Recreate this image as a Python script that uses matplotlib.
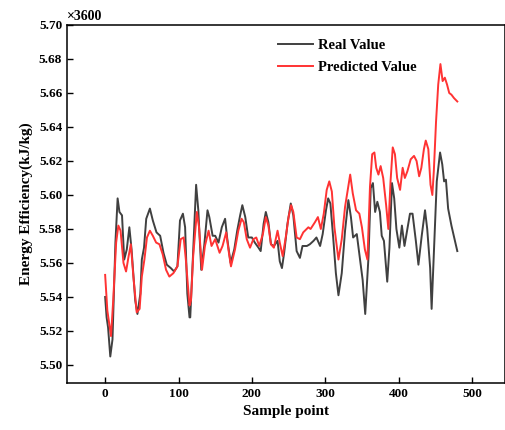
import matplotlib
matplotlib.use("Agg")
import matplotlib.pyplot as plt

# sample index / energy efficiency (x3600 kJ/kg)
real_x = [0, 2, 4, 7, 10, 14, 17, 19.5, 23, 26, 29.5, 33, 36, 41, 44, 48, 50, 53, 56, 61,
          65, 70, 75, 79.5, 84, 89.5, 94, 98.5, 102, 106, 109, 112, 115, 116, 119.5, 124, 127,
          131, 135, 139.5, 142, 146.5, 150, 154.5, 159, 163.5, 166.5, 171, 176, 180, 184, 187,
          191, 195, 200, 204, 209, 212, 216, 219, 222.5, 226, 230, 235, 238, 241, 244, 248.5,
          253, 256.5, 261, 265.5, 269, 275, 279, 284, 288, 293, 296.5, 301, 304, 307, 311,
          314.5, 318, 322.5, 327, 331.5, 335, 338, 343, 347.5, 351, 354.5, 359, 362, 365, 368,
          371, 374.5, 377, 380, 384.5, 387.5, 391, 394, 397, 401, 404.5, 408, 412, 415.5, 419,
          423.5, 427, 431.5, 436, 439, 443, 445, 448, 452, 456.5, 459.5, 462, 464.5, 467.5,
          472, 480]
real_y = [5.540, 5.528, 5.522, 5.505, 5.515, 5.572, 5.598, 5.590, 5.588, 5.562, 5.568, 5.581,
          5.568, 5.538, 5.530, 5.542, 5.562, 5.569, 5.586, 5.592, 5.585, 5.578, 5.576, 5.566,
          5.559, 5.557, 5.555, 5.558, 5.585, 5.589, 5.581, 5.542, 5.528, 5.528, 5.562, 5.606,
          5.591, 5.556, 5.570, 5.591, 5.587, 5.576, 5.576, 5.572, 5.581, 5.586, 5.574, 5.560,
          5.568, 5.579, 5.588, 5.594, 5.587, 5.575, 5.575, 5.572, 5.569, 5.567, 5.583, 5.590,
          5.584, 5.571, 5.570, 5.573, 5.561, 5.557, 5.566, 5.583, 5.595, 5.588, 5.567, 5.563,
          5.570, 5.570, 5.571, 5.573, 5.575, 5.570, 5.577, 5.591, 5.598, 5.595, 5.574, 5.554,
          5.541, 5.554, 5.579, 5.597, 5.587, 5.575, 5.577, 5.562, 5.550, 5.530, 5.564, 5.604,
          5.607, 5.590, 5.596, 5.590, 5.576, 5.573, 5.549, 5.569, 5.607, 5.598, 5.580, 5.569,
          5.582, 5.570, 5.580, 5.589, 5.589, 5.573, 5.559, 5.576, 5.591, 5.580, 5.557, 5.533,
          5.565, 5.608, 5.625, 5.618, 5.608, 5.609, 5.592, 5.582, 5.567]

pred_x = [0, 3, 8, 11, 15, 18, 21, 25, 28.5, 32, 35, 38.5, 43, 47, 50, 53.5, 57, 61, 65, 69.5,
          74, 78.5, 83, 87.5, 93, 98.5, 103, 107, 110, 115, 117, 120, 125, 128, 132, 136, 141,
          145, 150, 156, 160, 165, 168, 171.5, 177, 181.5, 186, 189, 193, 197.5, 202, 206, 210,
          215, 219, 222.5, 226, 230, 235, 238, 242, 246.5, 250, 253.5, 256.5, 261, 265.5, 270,
          277, 280, 286, 290, 294, 298, 302, 305.5, 309, 312.5, 318, 322.5, 327, 334, 337.5,
          342, 346.5, 350, 354, 357.5, 361, 364, 367, 369.5, 372.5, 375.5, 379, 383, 386, 389,
          392, 395, 398, 402, 405.5, 408.5, 412, 416.5, 421, 424.5, 428, 431, 434.5, 437, 440.5,
          443.5, 446, 448, 451, 454, 457, 460, 463, 466, 469, 472, 475.5, 480]
pred_y = [5.553, 5.532, 5.517, 5.538, 5.572, 5.582, 5.579, 5.560, 5.555, 5.564, 5.571, 5.552,
          5.531, 5.533, 5.552, 5.562, 5.575, 5.579, 5.576, 5.572, 5.571, 5.565, 5.556, 5.552,
          5.554, 5.558, 5.574, 5.575, 5.562, 5.535, 5.538, 5.564, 5.590, 5.581, 5.556, 5.570,
          5.579, 5.570, 5.574, 5.566, 5.570, 5.578, 5.568, 5.558, 5.568, 5.579, 5.586, 5.584,
          5.574, 5.569, 5.574, 5.575, 5.570, 5.577, 5.587, 5.582, 5.571, 5.569, 5.579, 5.572,
          5.564, 5.576, 5.587, 5.594, 5.590, 5.575, 5.574, 5.578, 5.581, 5.580, 5.584, 5.587,
          5.580, 5.589, 5.603, 5.608, 5.602, 5.581, 5.562, 5.574, 5.593, 5.612, 5.601, 5.591,
          5.589, 5.581, 5.568, 5.562, 5.605, 5.624, 5.625, 5.616, 5.612, 5.617, 5.610, 5.594,
          5.580, 5.608, 5.628, 5.624, 5.610, 5.603, 5.616, 5.610, 5.614, 5.621, 5.623, 5.620,
          5.611, 5.616, 5.627, 5.632, 5.627, 5.606, 5.600, 5.614, 5.643, 5.665, 5.677, 5.667,
          5.669, 5.665, 5.660, 5.659, 5.657, 5.655]

x_ticks = [0, 100, 200, 300, 400, 500]
y_ticks = [5.50, 5.52, 5.54, 5.56, 5.58, 5.60, 5.62, 5.64, 5.66, 5.68, 5.70]

plt.rcParams["font.family"] = ["Liberation Serif", "DejaVu Serif"]

fig = plt.figure(figsize=(5.06, 4.30), dpi=100)
ax = fig.add_axes([0.1324, 0.1093, 0.8656, 0.8326])

ax.plot(real_x, real_y, color="#404040", lw=1.4, label="Real Value")
ax.plot(pred_x, pred_y, color="#ff3333", lw=1.4, label="Predicted Value")

ax.set_xlim(-52, 545)
ax.set_ylim(5.4894, 5.70)
ax.set_xticks(x_ticks)
ax.set_yticks(y_ticks)
ax.set_yticklabels([f"{v:.2f}" for v in y_ticks])
ax.tick_params(direction="in", length=4, width=1, labelsize=9.5)
for lab in ax.get_xticklabels() + ax.get_yticklabels():
    lab.set_fontweight("bold")
for sp in ax.spines.values():
    sp.set_linewidth(1.1)

ax.set_xlabel("Sample point", fontsize=11, fontweight="bold")
ax.set_ylabel("Energy Efficiency(kJ/kg)", fontsize=11, fontweight="bold")
ax.text(0.0, 1.005, "\u00d73600", transform=ax.transAxes, ha="left", va="bottom",
        fontsize=10, fontweight="bold")

leg = ax.legend(loc="upper left", bbox_to_anchor=(0.451, 0.999), frameon=False,
                handlelength=2.4, handletextpad=0.4, labelspacing=0.6,
                prop={"weight": "bold", "size": 10.5})

fig.savefig("out.png", dpi=100)
